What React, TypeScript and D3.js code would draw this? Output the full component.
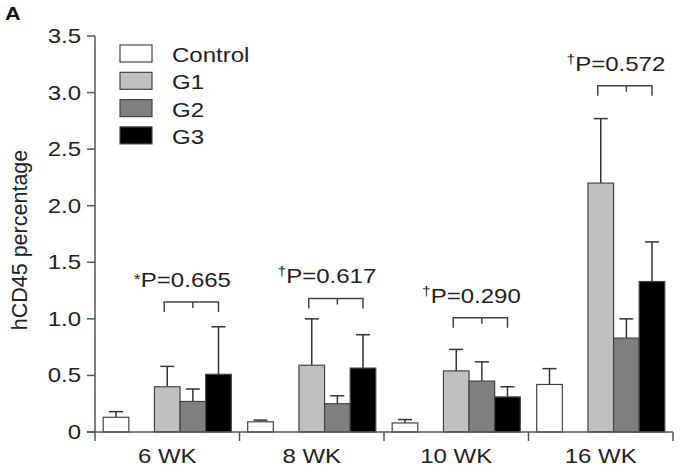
import React, { useEffect, useRef } from "react";
import * as d3 from "d3";

// chart values
const weeks = ["6 WK", "8 WK", "10 WK", "16 WK"];
const groups = ["Control", "G1", "G2", "G3"];
const control = [0.13, 0.09, 0.08, 0.42];
const g1 = [0.40, 0.59, 0.54, 2.20];
const g2 = [0.27, 0.25, 0.45, 0.83];
const g3 = [0.51, 0.565, 0.31, 1.33];
const controlErr = [0.18, 0.105, 0.11, 0.56];
const g1Err = [0.58, 1.0, 0.73, 2.77];
const g2Err = [0.38, 0.32, 0.62, 1.0];
const g3Err = [0.93, 0.86, 0.40, 1.68];
const yTicks = [0, 0.5, 1.0, 1.5, 2.0, 2.5, 3.0, 3.5];
const yTickLabels = ["0", "0.5", "1.0", "1.5", "2.0", "2.5", "3.0", "3.5"];
const pMarks = ["*", "\u2020", "\u2020", "\u2020"];
const pTexts = ["P=0.665", "P=0.617", "P=0.290", "P=0.572"];
const bracketY = [1.15, 1.18, 1.01, 3.06];
const fills = ["#ffffff", "#c0c0c0", "#7f7f7f", "#000000"];

const W = 685, H = 468;
const FONT = "'Liberation Sans', Arial, sans-serif";
const INK = "#222";

export default function App() {
  const ref = useRef<SVGSVGElement>(null);

  useEffect(() => {
    const svg = d3.select(ref.current);
    svg.selectAll("*").remove();

    const x0 = 95, x1 = 673, y0 = 432, yTop = 36;
    const y = d3.scaleLinear().domain([0, 3.5]).range([y0, yTop]);
    const xg = d3.scaleBand().domain(weeks).range([x0, x1]).padding(0);
    const xs = d3
      .scaleBand()
      .domain(["Control", "gap", "G1", "G2", "G3"])
      .range([0, xg.bandwidth()])
      .paddingInner(0)
      .paddingOuter(0.32);

    // text helper: wide sans like the figure
    const label = (g: any, x: number, yy: number, txt: string, anchor = "start", size = 20) =>
      g
        .append("text")
        .attr("transform", `translate(${x},${yy}) scale(1.2,1)`)
        .attr("text-anchor", anchor)
        .attr("font-family", FONT)
        .attr("font-size", size)
        .attr("fill", INK)
        .text(txt);

    const values = [control, g1, g2, g3];
    const errs = [controlErr, g1Err, g2Err, g3Err];

    const rows: any[] = [];
    weeks.forEach((w, i) => {
      groups.forEach((gname, k) => {
        rows.push({ w, g: gname, k, v: values[k][i], e: errs[k][i] });
      });
    });

    const bx = (d: any) => (xg(d.w) as number) + (xs(d.g) as number);
    const bw = xs.bandwidth();

    // error bars (drawn under bars)
    const eg = svg.append("g").attr("stroke", "#333").attr("stroke-width", 1.5);
    eg.selectAll("line.stem")
      .data(rows)
      .join("line")
      .attr("class", "stem")
      .attr("x1", (d) => bx(d) + bw / 2)
      .attr("x2", (d) => bx(d) + bw / 2)
      .attr("y1", (d) => y(d.v))
      .attr("y2", (d) => y(d.e));
    eg.selectAll("line.cap")
      .data(rows)
      .join("line")
      .attr("class", "cap")
      .attr("x1", (d) => bx(d) + bw / 2 - 7)
      .attr("x2", (d) => bx(d) + bw / 2 + 7)
      .attr("y1", (d) => y(d.e))
      .attr("y2", (d) => y(d.e));

    svg
      .append("g")
      .selectAll("rect")
      .data(rows)
      .join("rect")
      .attr("x", bx)
      .attr("width", bw)
      .attr("y", (d) => y(d.v))
      .attr("height", (d) => y0 - y(d.v))
      .attr("fill", (d) => fills[d.k])
      .attr("stroke", "#444")
      .attr("stroke-width", 1.2);

    // axes
    const ax = svg.append("g").attr("stroke", "#555").attr("stroke-width", 1.5).attr("fill", "none");
    ax.append("line").attr("x1", x0).attr("x2", x0).attr("y1", yTop).attr("y2", y0 + 9);
    ax.append("line").attr("x1", x0 - 8).attr("x2", x1).attr("y1", y0).attr("y2", y0);
    ax.selectAll("line.yt")
      .data(yTicks)
      .join("line")
      .attr("class", "yt")
      .attr("x1", x0 - 8)
      .attr("x2", x0)
      .attr("y1", (d) => y(d))
      .attr("y2", (d) => y(d));
    ax.selectAll("line.xt")
      .data(weeks)
      .join("line")
      .attr("class", "xt")
      .attr("x1", (d) => (xg(d) as number) + xg.bandwidth())
      .attr("x2", (d) => (xg(d) as number) + xg.bandwidth())
      .attr("y1", y0)
      .attr("y2", y0 + 9);

    const tg = svg.append("g");
    yTicks.forEach((t, i) => label(tg, 81, y(t) + 7, yTickLabels[i], "end"));
    weeks.forEach((w) => label(tg, (xg(w) as number) + xg.bandwidth() / 2, 463, w, "middle"));

    // y title
    svg
      .append("text")
      .attr("transform", `translate(27,${(y0 + yTop) / 2 + 6}) rotate(-90)`)
      .attr("text-anchor", "middle")
      .attr("font-family", FONT)
      .attr("font-size", 21.5)
      .attr("fill", INK)
      .text("hCD45 percentage");

    // panel letter
    svg
      .append("text")
      .attr("transform", "translate(5,20) scale(1.2,1)")
      .attr("font-family", FONT)
      .attr("font-weight", "bold")
      .attr("font-size", 18)
      .attr("fill", "#111")
      .text("A");

    // legend
    const lg = svg.append("g");
    groups.forEach((gname, k) => {
      const ly = 45 + k * 27.3;
      lg.append("rect")
        .attr("x", 120)
        .attr("y", ly)
        .attr("width", 32)
        .attr("height", 17)
        .attr("fill", fills[k])
        .attr("stroke", "#444")
        .attr("stroke-width", 1.2);
      label(lg, 172, ly + 17, gname);
    });

    // p-value brackets
    const pg = svg.append("g");
    weeks.forEach((w, i) => {
      const gx = xg(w) as number;
      const a = gx + (xs("G1") as number) + bw / 2 - 3;
      const m = gx + (xs("G2") as number) + bw / 2;
      const b = gx + (xs("G3") as number) + bw / 2;
      const by = y(bracketY[i]);
      pg.append("path")
        .attr("d", `M${a},${by + 10}V${by}H${b}V${by + 10}M${m},${by}V${by + 6}`)
        .attr("fill", "none")
        .attr("stroke", "#444")
        .attr("stroke-width", 1.5);
      const t = pg
        .append("text")
        .attr("transform", `translate(${(a + b) / 2 - 9},${by - 15}) scale(1.2,1)`)
        .attr("text-anchor", "middle")
        .attr("font-family", FONT)
        .attr("font-size", 20)
        .attr("fill", INK);
      if (pMarks[i] === "*") {
        t.append("tspan").attr("font-size", 15).attr("dy", -3).text("*");
        t.append("tspan").attr("dy", 3).text(pTexts[i]);
      } else {
        t.append("tspan").attr("font-size", 13).attr("dy", -8).text(pMarks[i]);
        t.append("tspan").attr("dy", 8).text(pTexts[i]);
      }
    });
  }, []);

  return (
    <svg
      ref={ref}
      width={W}
      height={H}
      style={{ position: "absolute", left: 0, top: 0, background: "#fff" }}
    />
  );
}
